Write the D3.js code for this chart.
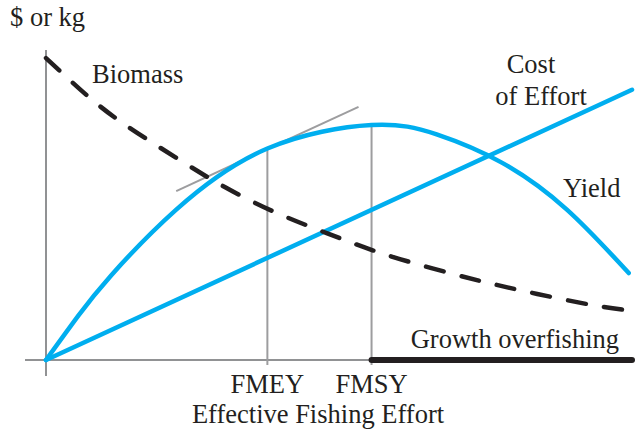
<!DOCTYPE html>
<html lang="en">
<head>
  <meta charset="UTF-8">
  <title>Effective Fishing Effort</title>
  <script src="https://d3js.org/d3.v7.min.js"></script>
  <style>
    body { margin: 0; background: #fff; }
    text { font-family: "Liberation Serif", "Times New Roman", serif; font-size: 26.5px; fill: #231f20; }
  </style>
</head>
<body>
  <div id="chart"></div>
  <script>
    // effort (FMSY = 1) and value (MSY = 1)
    const yieldEffort = [0, 0.1, 0.2, 0.4, 0.68, 1.0, 1.2, 1.4, 1.6, 1.79];
    const yieldValues = [0, 0.19, 0.36, 0.64, 0.90, 1.0, 0.96, 0.84, 0.64, 0.37];
    const biomassEffort = [0, 0.135, 0.258, 0.411, 0.549, 0.702, 0.862, 1.018, 1.184, 1.347, 1.509, 1.678, 1.8];
    const biomassValues = [1.285, 1.115, 0.987, 0.851, 0.736, 0.630, 0.540, 0.460, 0.391, 0.332, 0.281, 0.234, 0.209];
    const costEffort = [0, 1.8];
    const costValues = [0, 1.15];
    const tangentEffort = [0.4, 0.96];
    const tangentValues = [0.719, 1.077];
    const refPoints = [0.68, 1.0];
    const refLabels = ["FMEY", "FMSY"];
    const refYield = [0.90, 1.0];
    const overfishing = [1.0, 1.8];

    const width = 638, height = 436;
    const svg = d3.select("#chart").append("svg")
      .attr("width", width).attr("height", height);

    const x = d3.scaleLinear().domain([0, 1.8]).range([46, 632]);
    const y = d3.scaleLinear().domain([0, 1]).range([360, 125]);

    const blue = "#00aeef", grey = "#9d9d9f", axisCol = "#6d6e70", ink = "#231f20";

    // axes
    svg.append("line").attr("x1", x(0)).attr("x2", x(0))
      .attr("y1", y(0) + 16).attr("y2", 50)
      .attr("stroke", axisCol).attr("stroke-width", 1.5);
    svg.append("line").attr("x1", 25).attr("x2", x(1.8))
      .attr("y1", y(0)).attr("y2", y(0))
      .attr("stroke", axisCol).attr("stroke-width", 1.5);

    // reference lines
    refPoints.forEach((r, i) => {
      svg.append("line").attr("x1", x(r)).attr("x2", x(r))
        .attr("y1", y(0) + 5).attr("y2", y(refYield[i]))
        .attr("stroke", grey).attr("stroke-width", 2);
      svg.append("text").attr("x", x(r)).attr("y", 393)
        .attr("text-anchor", "middle").text(refLabels[i]);
    });

    // tangent
    svg.append("line")
      .attr("x1", x(tangentEffort[0])).attr("y1", y(tangentValues[0]))
      .attr("x2", x(tangentEffort[1])).attr("y2", y(tangentValues[1]))
      .attr("stroke", grey).attr("stroke-width", 2);

    const line = d3.line().x(d => x(d[0])).y(d => y(d[1]));

    // cost of effort
    svg.append("path").datum(d3.zip(costEffort, costValues))
      .attr("d", line).attr("fill", "none")
      .attr("stroke", blue).attr("stroke-width", 4.5).attr("stroke-linecap", "round");

    // yield
    svg.append("path").datum(d3.zip(yieldEffort, yieldValues))
      .attr("d", line.curve(d3.curveNatural)).attr("fill", "none")
      .attr("stroke", blue).attr("stroke-width", 4.5).attr("stroke-linecap", "round");

    // biomass
    svg.append("path").datum(d3.zip(biomassEffort, biomassValues))
      .attr("d", line.curve(d3.curveNatural)).attr("fill", "none")
      .attr("stroke", ink).attr("stroke-width", 4.5)
      .attr("stroke-dasharray", "18,18.5").attr("stroke-linecap", "round");

    // growth overfishing bar
    svg.append("line").attr("x1", x(overfishing[0])).attr("x2", x(overfishing[1]))
      .attr("y1", y(0)).attr("y2", y(0))
      .attr("stroke", ink).attr("stroke-width", 6).attr("stroke-linecap", "round");

    // labels
    svg.append("text").attr("x", 10).attr("y", 26).text("$ or kg");
    svg.append("text").attr("x", 92).attr("y", 83).text("Biomass");
    svg.append("text").attr("x", 531).attr("y", 73).attr("text-anchor", "middle").text("Cost");
    svg.append("text").attr("x", 541).attr("y", 105).attr("text-anchor", "middle").text("of Effort");
    svg.append("text").attr("x", 563).attr("y", 197).text("Yield");
    svg.append("text").attr("x", 619).attr("y", 348).attr("text-anchor", "end").text("Growth overfishing");
    svg.append("text").attr("x", 318).attr("y", 423).attr("text-anchor", "middle").text("Effective Fishing Effort");
  </script>
</body>
</html>
